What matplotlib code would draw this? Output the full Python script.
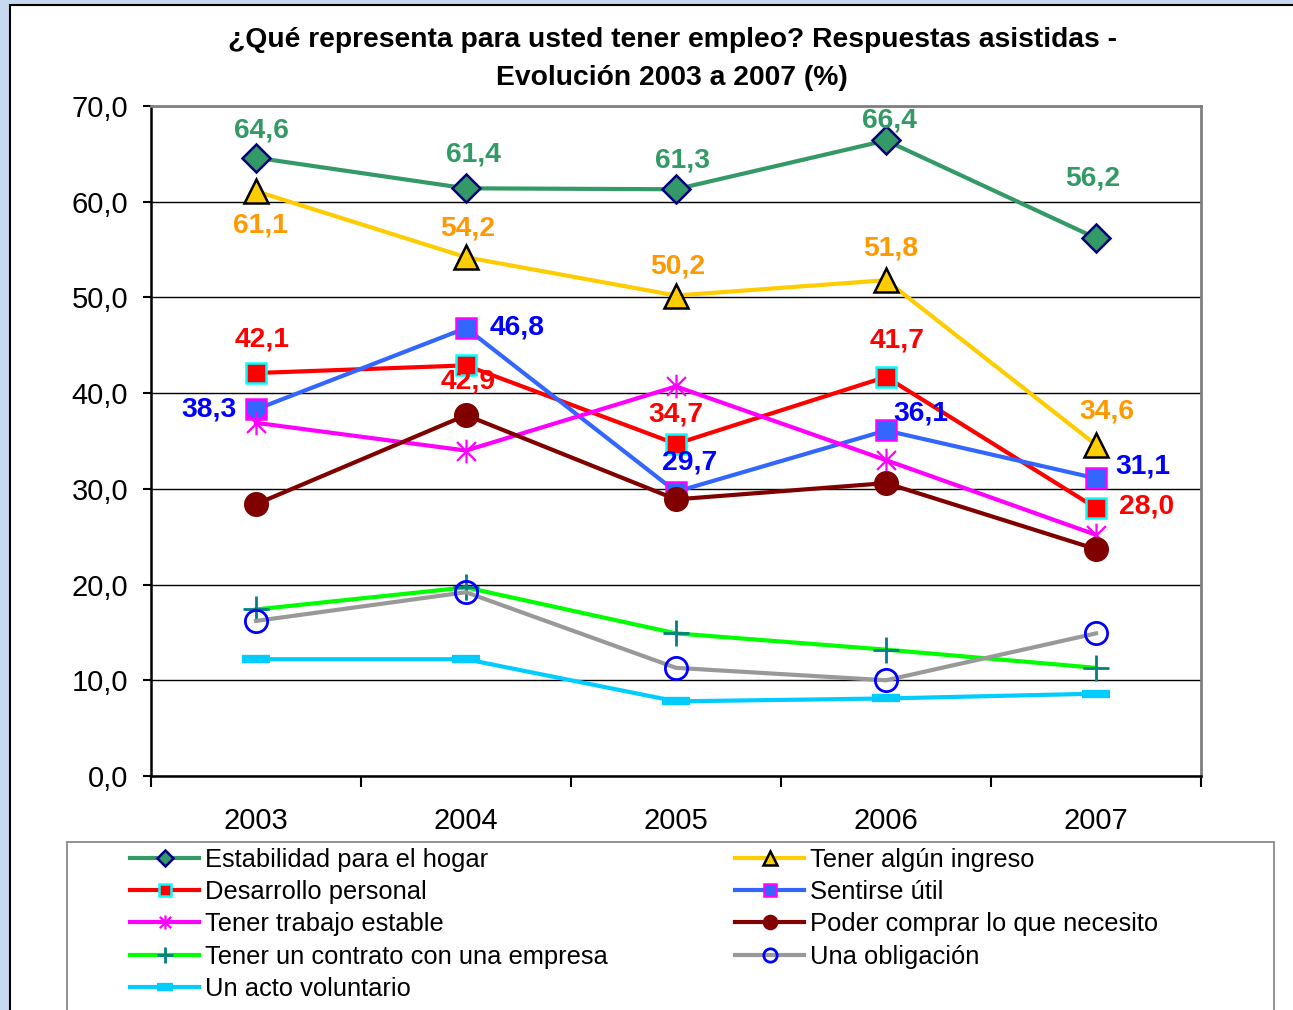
import matplotlib
matplotlib.use("Agg")
import matplotlib.pyplot as plt
from matplotlib.patches import Rectangle
from matplotlib.path import Path

plt.rcParams["font.family"] = ["Liberation Sans", "DejaVu Sans"]

years = ["2003", "2004", "2005", "2006", "2007"]

estabilidad = [64.6, 61.4, 61.3, 66.4, 56.2]
ingreso = [61.1, 54.2, 50.2, 51.8, 34.6]
desarrollo = [42.1, 42.9, 34.7, 41.7, 28.0]
util = [38.3, 46.8, 29.7, 36.1, 31.1]
trabajo = [36.9, 34.0, 40.7, 33.0, 25.2]
comprar = [28.4, 37.7, 28.9, 30.6, 23.7]
contrato = [17.4, 19.7, 14.9, 13.2, 11.3]
obligacion = [16.2, 19.2, 11.3, 10.0, 14.9]
voluntario = [12.2, 12.2, 7.8, 8.1, 8.6]

names = ["Estabilidad para el hogar", "Tener algún ingreso", "Desarrollo personal",
         "Sentirse útil", "Tener trabajo estable", "Poder comprar lo que necesito",
         "Tener un contrato con una empresa", "Una obligación", "Un acto voluntario"]

y_ticks = [0, 10, 20, 30, 40, 50, 60, 70]

# asterisk marker like Excel's "star"
star = Path([(0, -1), (0, 1), (-0.8, -0.8), (0.8, 0.8), (-0.8, 0.8), (0.8, -0.8)],
            [Path.MOVETO, Path.LINETO, Path.MOVETO, Path.LINETO, Path.MOVETO, Path.LINETO])

W, H = 1293, 1010
fig = plt.figure(figsize=(W / 100, H / 100), dpi=100, facecolor="#c6d9f0")
fig.patches.append(Rectangle((10 / W, -0.1), 1.1, 1 - 5 / H + 0.1, transform=fig.transFigure,
                             facecolor="white", edgecolor="black", lw=1.5, zorder=-5))
fig.patches.append(Rectangle((67 / W, -0.1), (1274 - 67) / W, 1 - 842 / H + 0.1,
                             transform=fig.transFigure, facecolor="none",
                             edgecolor="#808080", lw=1.2, zorder=1))

ax = fig.add_axes([151 / W, 1 - 776 / H, (1201 - 151) / W, (776 - 106) / H])
ax.set_facecolor("white")
x = list(range(len(years)))

styles = [
    (estabilidad, dict(color="#339966", marker="D", ms=14, mfc="#339966", mec="#000080", mew=1.8)),
    (ingreso, dict(color="#FFCC00", marker="^", ms=17, mfc="#FFCC00", mec="black", mew=1.8)),
    (desarrollo, dict(color="#FF0000", marker="s", ms=15, mfc="#FF0000", mec="#00FFFF", mew=1.8)),
    (util, dict(color="#3366FF", marker="s", ms=15, mfc="#3366FF", mec="#FF00FF", mew=1.8)),
    (trabajo, dict(color="#FF00FF", marker=star, ms=17, mec="#FF00FF", mew=1.6)),
    (comprar, dict(color="#800000", marker="o", ms=17, mfc="#800000", mec="#800000")),
    (contrato, dict(color="#00FF00", marker="+", ms=19, mec="#008080", mew=2)),
    (obligacion, dict(color="#999999", marker="o", ms=16, mfc="none", mec="#0000FF", mew=2)),
    (voluntario, dict(color="#00CCFF", marker="_", ms=20, mec="#00CCFF", mew=6)),
]

handles = []
for i, (vals, st) in enumerate(styles):
    ln, = ax.plot(x, vals, lw=3, label=names[i], zorder=3 + i, **st)
    handles.append(ln)

# data labels: (series values, colour, offsets in pixels)
lab_font = dict(fontsize=20.3, fontweight="bold", ha="center", va="center")
labels = [
    (estabilidad, "#339966", [(5, 27), (7, 34), (7, 29), (3, 20), (-3, 60)]),
    (ingreso, "#FF9900", [(4, -34), (2, 29), (2, 29), (5, 32), (11, 33)]),
    (desarrollo, "#FF0000", [(6, 34), (2, -16), (0, 29), (11, 36), (51, 1)]),
    (util, "#0000FF", [(-47, 0), (51, 1), (14, 29), (35, 17), (47, 12)]),
]
for vals, col, offs in labels:
    for xi, v, (dx, dy) in zip(x, vals, offs):
        ax.annotate(f"{v:.1f}".replace(".", ","), (xi, v), xytext=(dx, dy),
                    textcoords="offset pixels", color=col, zorder=20, **lab_font)

ax.set_xlim(-0.5, 4.5)
ax.set_ylim(0, 70)
ax.set_yticks(y_ticks)
ax.set_yticklabels([f"{t:.1f}".replace(".", ",") for t in y_ticks], fontsize=21)
ax.tick_params(axis="y", direction="out", length=6, width=1.5, pad=10.5)
ax.set_xticks([-0.5, 0.5, 1.5, 2.5, 3.5, 4.5])
ax.set_xticklabels([])
ax.tick_params(axis="x", which="major", direction="out", length=8, width=1.5)
ax.set_xticks(x, minor=True)
ax.set_xticklabels(years, minor=True, fontsize=21)
ax.tick_params(axis="x", which="minor", length=0, pad=22)
ax.grid(axis="y", color="black", lw=1)
ax.set_axisbelow(True)
for s in ["top", "right"]:
    ax.spines[s].set_color("#808080")
    ax.spines[s].set_linewidth(2)
for s in ["left", "bottom"]:
    ax.spines[s].set_color("black")
    ax.spines[s].set_linewidth(1.8)

fig.text(672 / W, 1 - 40 / H, "¿Qué representa para usted tener empleo? Respuestas asistidas -",
         fontsize=20.3, fontweight="bold", ha="center", va="center")
fig.text(672 / W, 1 - 78 / H, "Evolución 2003 a 2007 (%)",
         fontsize=20.3, fontweight="bold", ha="center", va="center")

leg_kw = dict(loc="upper left", frameon=False, fontsize=18.4, handlelength=2.7,
              handletextpad=0.25, labelspacing=0.32, borderpad=0, borderaxespad=0,
              markerscale=0.6)
left_col = [handles[i] for i in [0, 2, 4, 6, 8]]
right_col = [handles[i] for i in [1, 3, 5, 7]]
fig.legend(left_col, [h.get_label() for h in left_col],
           bbox_to_anchor=(130 / W, 1 - 848 / H), **leg_kw)
fig.legend(right_col, [h.get_label() for h in right_col],
           bbox_to_anchor=(735 / W, 1 - 848 / H), **leg_kw)

fig.savefig("out.png", dpi=100, facecolor=fig.get_facecolor())
